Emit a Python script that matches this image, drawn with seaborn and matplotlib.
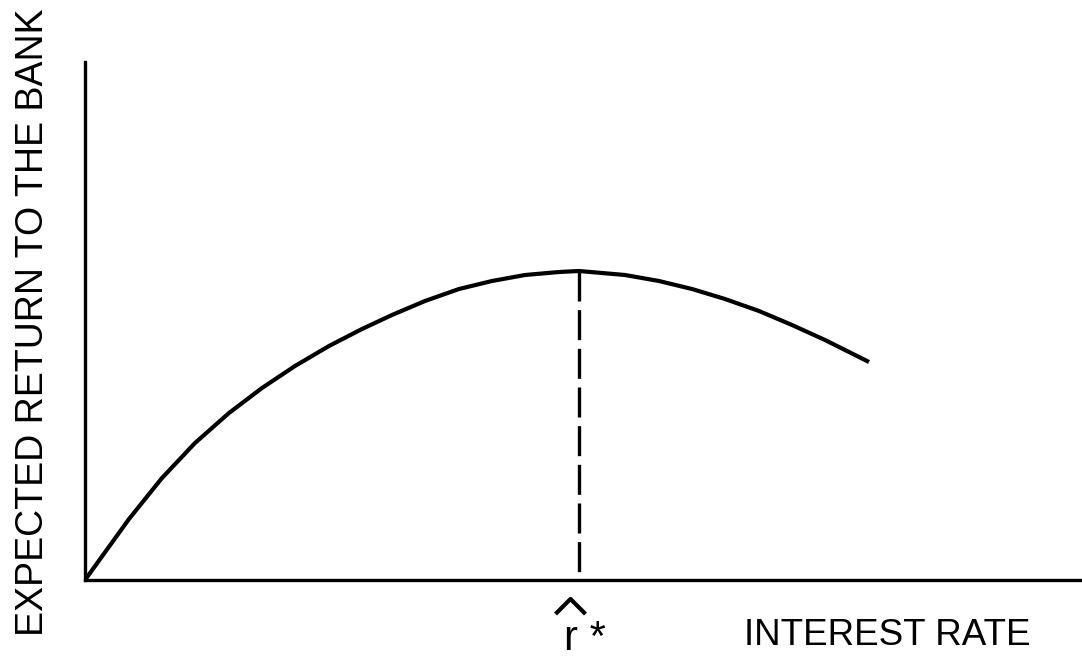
import numpy as np
import matplotlib
matplotlib.use("Agg")
import matplotlib.pyplot as plt
import matplotlib.transforms as mtransforms
from matplotlib.path import Path
import seaborn as sns

# Values (arbitrary units)
interest_rate = [0.0, 0.44, 0.77, 1.10, 1.44, 1.77, 2.10, 2.44, 2.77, 3.07,
                 3.40, 3.74, 4.07, 4.40, 4.74, 4.94, 5.40, 5.74, 6.07, 6.40,
                 6.74, 7.07, 7.40, 7.84]
expected_return = [0.0, 0.61, 1.02, 1.37, 1.67, 1.92, 2.14, 2.34, 2.51, 2.65,
                   2.79, 2.91, 2.99, 3.05, 3.08, 3.09, 3.05, 2.99, 2.91, 2.81,
                   2.69, 2.55, 2.40, 2.18]
x_label = "INTEREST RATE"
y_label = "EXPECTED RETURN TO THE BANK"
star_label = "r *"

sns.set_style("white")
plt.rcParams['font.family'] = ['Liberation Sans', 'DejaVu Sans']
plt.rcParams['text.color'] = 'black'
plt.rcParams['axes.labelcolor'] = 'black'

fig = plt.figure(figsize=(10.82, 6.6), dpi=100)
ax = fig.add_axes([85 / 1082, 80 / 660, 995 / 1082, 518 / 660])

sns.lineplot(x=interest_rate, y=expected_return, sort=False, estimator=None,
             color='black', lw=3.0, solid_capstyle='butt',
             solid_joinstyle='round', ax=ax)

# dashed drop line at the maximum
i_max = int(np.argmax(expected_return))
r_star = interest_rate[i_max]
peak = expected_return[i_max]
ax.plot([r_star, r_star], [peak, 0], color='black', lw=2.4,
        linestyle=(0, (9, 2.6)), solid_capstyle='butt')

ax.set_xlim(0, 9.95)
ax.set_ylim(0, 5.18)
ax.set_xticks([])
ax.set_yticks([])
sns.despine(ax=ax)
for side in ['left', 'bottom']:
    ax.spines[side].set_linewidth(2.4)
    ax.spines[side].set_color('black')

ax.set_xlabel(x_label, fontsize=26.5, va='baseline', ha='center')
ax.xaxis.set_label_coords(0.8065, -0.1255)
ax.set_ylabel(y_label, fontsize=27, va='baseline', ha='center')
ax.yaxis.set_label_coords(-0.0422, 0.497)

# hat over r*
caret = Path([(-1, -0.5), (0, 0.5), (1, -0.5)],
             [Path.MOVETO, Path.LINETO, Path.LINETO])
hat_tr = mtransforms.offset_copy(ax.transData, fig=fig, x=-6.5, y=-18.4, units='points')
ax.plot([r_star], [0], marker=caret, markersize=21.6, markeredgewidth=3.0,
        markeredgecolor='black', fillstyle='none', linestyle='none',
        transform=hat_tr, clip_on=False)
ax.annotate(star_label, xy=(r_star, 0), xycoords='data',
            xytext=(-10.5, -50.4), textcoords='offset points',
            fontsize=30, ha='left', va='baseline', annotation_clip=False)

fig.savefig("out.png", dpi=100)
